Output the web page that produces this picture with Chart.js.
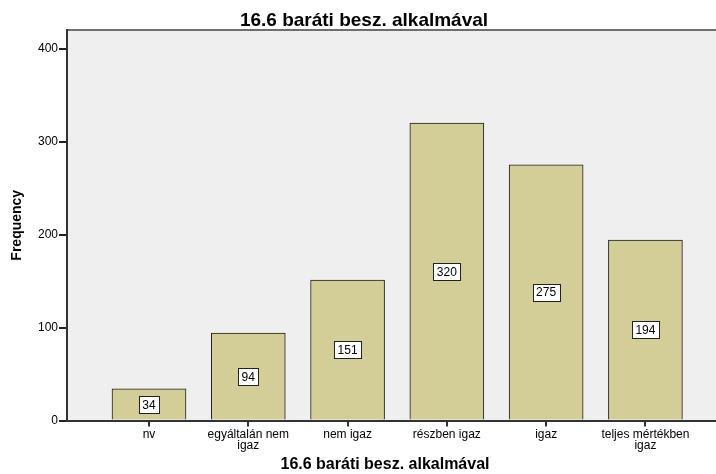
<!DOCTYPE html>
<html>
<head>
<meta charset="utf-8">
<script src="https://cdn.jsdelivr.net/npm/chart.js@4.4.1/dist/chart.umd.min.js"></script>
<style>
  html, body { margin: 0; padding: 0; background: #ffffff; }
  #wrap { width: 716px; height: 474px; position: relative; }
</style>
</head>
<body>
<div id="wrap"><canvas id="c" width="716" height="474"></canvas></div>
<script>
// ---- data ----
const chartTitle = "16.6 baráti besz. alkalmával";
const xAxisTitle = "16.6 baráti besz. alkalmával";
const yAxisTitle = "Frequency";
const categories = [["nv"], ["egyáltalán nem", "igaz"], ["nem igaz"], ["részben igaz"], ["igaz"], ["teljes mértékben", "igaz"]];
const frequencies = [34, 94, 151, 320, 275, 194];
const yTicks = [0, 100, 200, 300, 400];

const FONT = "'Liberation Sans', Arial, sans-serif";

const bgPlugin = {
  id: 'bgPlugin',
  beforeDraw(chart) {
    const {ctx, chartArea: a, width} = chart;
    ctx.save();
    ctx.fillStyle = '#EFEFEF';
    ctx.fillRect(a.left, a.top, width - a.left, a.bottom - a.top);
    ctx.strokeStyle = '#6e6e6e';
    ctx.lineWidth = 2;
    ctx.beginPath();
    ctx.moveTo(a.left, a.top);
    ctx.lineTo(width, a.top);
    ctx.stroke();
    ctx.restore();
  },
  afterDraw(chart) {
    const {ctx, chartArea: a, width} = chart;
    const xs = chart.scales.x;
    const yLine = Math.round(xs.top - 1) + 1;
    ctx.save();
    // extend bottom axis line to the right edge
    ctx.strokeStyle = '#333333';
    ctx.lineWidth = 2;
    ctx.beginPath();
    ctx.moveTo(a.right - 1, yLine);
    ctx.lineTo(width, yLine);
    ctx.stroke();
    // chart title
    ctx.fillStyle = '#000';
    ctx.font = "bold 19px " + FONT;
    ctx.textAlign = 'center';
    ctx.textBaseline = 'alphabetic';
    ctx.fillText(chartTitle, 364, 26);
    ctx.restore();
  }
};

const labelPlugin = {
  id: 'labelPlugin',
  afterDatasetsDraw(chart) {
    const {ctx} = chart;
    const meta = chart.getDatasetMeta(0);
    ctx.save();
    ctx.font = "12px " + FONT;
    ctx.textAlign = 'center';
    ctx.textBaseline = 'middle';
    meta.data.forEach((el, i) => {
      const txt = String(chart.data.datasets[0].data[i].y);
      const cx = el.x;
      const cy = (el.y + el.base) / 2;
      const w = ctx.measureText(txt).width + 7;
      const h = 17;
      const x0 = Math.round(cx - w / 2) + 0.5;
      const y0 = Math.round(cy - h / 2) + 0.5;
      ctx.fillStyle = '#ffffff';
      ctx.fillRect(x0, y0, Math.round(w), h);
      ctx.strokeStyle = '#222';
      ctx.lineWidth = 1;
      ctx.strokeRect(x0, y0, Math.round(w), h);
      ctx.fillStyle = '#000';
      ctx.fillText(txt, cx, cy + 1);
    });
    ctx.restore();
  }
};

new Chart(document.getElementById('c'), {
  type: 'bar',
  data: {
    datasets: [{
      data: frequencies.map((v, i) => ({x: i, y: v})),
      backgroundColor: '#D3CE98',
      borderColor: '#1e1e1e',
      borderWidth: 1,
      barThickness: 74
    }]
  },
  plugins: [bgPlugin, labelPlugin],
  options: {
    responsive: false,
    animation: false,
    layout: { padding: { top: 30, right: 13, left: 0, bottom: 0 } },
    plugins: {
      legend: { display: false },
      title: { display: false },
      tooltip: { enabled: false }
    },
    scales: {
      x: {
        type: 'linear',
        offset: false,
        min: -0.826,
        max: 5.58,
        afterBuildTicks(scale) { scale.ticks = categories.map((c, i) => ({value: i})); },
        afterFit(scale) { scale.height = 53.5; },
        ticks: {
          autoSkip: false,
          maxRotation: 0,
          padding: 2,
          color: '#000',
          font: { family: FONT, size: 12, lineHeight: 0.95 },
          callback: (v) => categories[v]
        },
        grid: { offset: false, drawOnChartArea: false, drawTicks: true, tickLength: 6, color: '#333', lineWidth: 2 },
        border: { display: true, color: '#333', width: 2 },
        title: {
          display: true, text: xAxisTitle, color: '#000',
          font: { family: FONT, size: 16, weight: 'bold', lineHeight: 1 },
          padding: { top: 0, bottom: 1 }
        }
      },
      y: {
        min: 0,
        max: 420,
        afterBuildTicks(scale) { scale.ticks = yTicks.map(v => ({value: v})); },
        afterFit(scale) { scale.width = 67; },
        ticks: {
          padding: 1,
          color: '#000',
          font: { family: FONT, size: 12 }
        },
        grid: { drawOnChartArea: false, drawTicks: true, tickLength: 8, color: '#222', lineWidth: 2 },
        border: { display: true, color: '#333', width: 2 },
        title: {
          display: true, text: yAxisTitle, color: '#000',
          font: { family: FONT, size: 14, weight: 'bold', lineHeight: 1 },
          padding: { top: 10, bottom: 0 }
        }
      }
    }
  }
});
</script>
</body>
</html>
